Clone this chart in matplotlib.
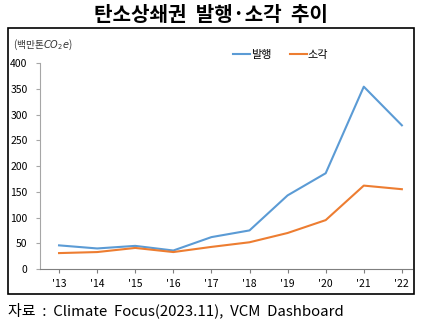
import matplotlib.pyplot as plt
from matplotlib.patches import Rectangle

plt.rcParams['font.family'] = ['Noto Sans CJK KR', 'DejaVu Sans']

# 데이터 (백만톤 CO2e)
years = ["'13", "'14", "'15", "'16", "'17", "'18", "'19", "'20", "'21", "'22"]
issued = [46, 40, 45, 36, 62, 75, 143, 186, 354, 279]   # 발행
retired = [31, 33, 41, 33, 43, 52, 70, 95, 162, 155]    # 소각

fig = plt.figure(figsize=(4.21, 3.23), dpi=100)

# 바깥 테두리
fig.patches.append(Rectangle((0.019, 0.09), 0.964, 0.824, transform=fig.transFigure,
                             fill=False, edgecolor='black', linewidth=1.2))

fig.text(0.5, 0.955, '탄소상쇄권  발행·소각  추이', ha='center', va='center',
         fontsize=14.5, fontweight='bold')
fig.text(0.02, 0.038, '자료  :  Climate  Focus(2023.11),  VCM  Dashboard',
         ha='left', va='center', fontsize=10.8)
fig.text(0.03, 0.862, '(백만톤$CO_2e$)', ha='left', va='center', fontsize=7,
         color='#333333')

ax = fig.add_axes([0.095, 0.167, 0.884, 0.638])
x = range(len(years))
ax.plot(x, issued, color='#5B9BD5', linewidth=1.5, label='발행')
ax.plot(x, retired, color='#ED7D31', linewidth=1.5, label='소각')

ax.set_xlim(-0.5, 9.27)
ax.set_ylim(0, 400)
ax.set_yticks(range(0, 401, 50))
ax.set_xticks(list(x))
ax.set_xticklabels(years)

for s in ['top', 'right']:
    ax.spines[s].set_visible(False)
ax.spines['left'].set_color('#A6A6A6')
ax.spines['bottom'].set_color('#7F7F7F')
ax.tick_params(axis='y', labelsize=7.5, length=3, color='#A6A6A6', pad=6)
ax.tick_params(axis='x', labelsize=7.5, length=3, color='#7F7F7F', pad=4)

ax.legend(loc='center left', bbox_to_anchor=(0.54, 0.83),
          bbox_transform=fig.transFigure, ncol=2, frameon=False, borderpad=0,
          fontsize=8, handlelength=1.5, handletextpad=0.1, columnspacing=1.7)

plt.savefig('out.png', dpi=100)
